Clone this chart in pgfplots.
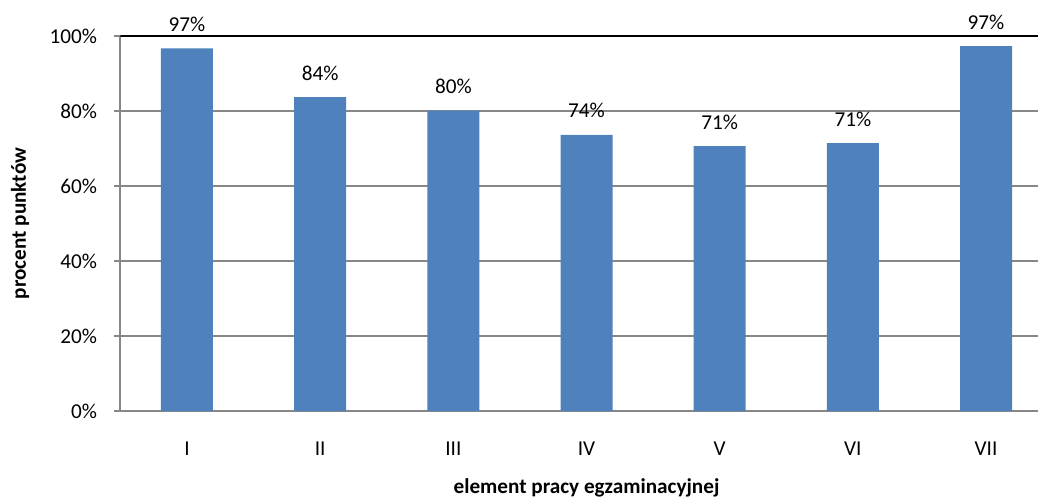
\documentclass[border=0pt]{standalone}
\usepackage{fontspec}
\setmainfont{Carlito}
\usepackage{pgfplots}
\pgfplotsset{compat=1.18}
\definecolor{barblue}{HTML}{4F81BD}
\definecolor{gridgray}{HTML}{878787}
\begin{document}
\begin{tikzpicture}
\begin{axis}[
  scale only axis,
  width=458.8pt, height=187.5pt,
  xmin=-0.5, xmax=6.39,
  ymin=0, ymax=100,
  axis lines=left,
  axis line style={gridgray, line width=1pt, -},
  ytick={0,20,40,60,80,100},
  yticklabel={\pgfmathprintnumber{\tick}\%},
  /pgf/number format/assume math mode=true,
  ymajorgrids,
  major grid style={gridgray, line width=0.8pt},
  ytick style={gridgray, line width=0.8pt},
  tick align=outside,
  major tick length=3pt,
  xtick={0,1,2,3,4,5,6},
  xticklabels={I,II,III,IV,V,VI,VII},
  xtick style={draw=none},
  extra x ticks={-0.5,0.5,1.5,2.5,3.5,4.5,5.5},
  extra x tick labels={},
  extra x tick style={xtick style={gridgray, line width=0.8pt}, xmajorgrids=false},
  tick label style={font=\fontsize{10.6}{12}\selectfont, text=black},
  xticklabel style={yshift=-9pt},
  yticklabel style={xshift=-5.2pt},
  xlabel={element pracy egzaminacyjnej},
  ylabel={procent punktów},
  xlabel style={at={(axis description cs:0.508,0)}, anchor=center, yshift=-38.5pt, font=\bfseries\fontsize{10.6}{12}\selectfont},
  ylabel style={at={(axis description cs:0,0.5)}, anchor=center, rotate=0, yshift=50.2pt, font=\bfseries\fontsize{10.6}{12}\selectfont},
  clip=true,
  nodes near coords={\pgfplotspointmeta},
  point meta=explicit symbolic,
  nodes near coords style={anchor=base, inner sep=0pt, yshift=8.5pt, font=\fontsize{10.6}{12}\selectfont, text=black},
]
\draw[black, line width=1pt] (rel axis cs:0,1) -- (rel axis cs:1,1);
\addplot[ybar, bar width=26pt, fill=barblue, draw=none] coordinates {
  (0,96.7) [97\%]
  (1,83.7) [84\%]
  (2,80.1) [80\%]
  (3,73.6) [74\%]
  (4,70.6) [71\%]
  (5,71.4) [71\%]
  (6,97.3) [97\%]
};
\end{axis}
\pgfresetboundingbox
\useasboundingbox ([shift={(-60.2pt,-43.5pt)}]current axis.south west) rectangle ([shift={(0pt,18pt)}]current axis.north east);
\end{tikzpicture}
\end{document}
